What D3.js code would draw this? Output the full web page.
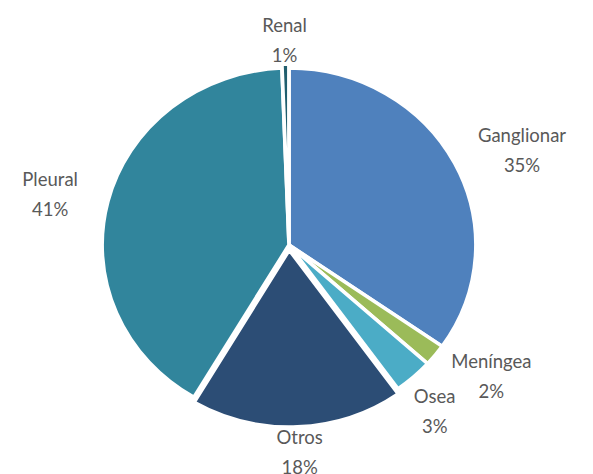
<!DOCTYPE html>
<html>
<head>
<meta charset="utf-8">
<script src="https://cdn.jsdelivr.net/npm/d3@7"></script>
<style>
  body { margin: 0; background: #fff; }
  svg text { font-family: Lato, "Open Sans", sans-serif; fill: #595959; }
</style>
</head>
<body>
<svg width="593" height="474"></svg>
<script>
// slice names, values (%) and printed labels, clockwise from 12 o'clock
const categories = ["Ganglionar", "Meníngea", "Osea", "Otros", "Pleural", "Renal"];
const values = [34.7, 2.0, 3.4, 18.4, 40.9, 0.6];
const labels = ["35%", "2%", "3%", "18%", "41%", "1%"];
const colors = ["#4F81BD", "#9BBB59", "#4BACC6", "#2C4D75", "#31859C", "#215E6E"];
const explode = [0, 0, 0, 5, 0, 4];

function drawPie() {
    const svg = d3.select("svg"),
        cx = 289,
        cy = 245,
        radius = 177,
        sx = 1.056, // the original chart is a little wider than tall
        minSep = 14 * Math.PI / 180;

    const pie = d3.pie().sort(null).value(d => d)(values);
    const arc = d3.arc().innerRadius(0).outerRadius(radius);

    const g = svg.append("g")
        .attr("transform", `translate(${cx},${cy}) scale(${sx},1)`);

    g.selectAll("path")
        .data(pie)
        .enter().append("path")
        .attr("d", arc)
        .attr("transform", (d, i) => {
            const a = (d.startAngle + d.endAngle) / 2;
            return `translate(${explode[i] * Math.sin(a)},${-explode[i] * Math.cos(a)})`;
        })
        .style("fill", (d, i) => colors[i])
        .style("stroke", "#fff")
        .style("stroke-width", 3.5)
        .style("stroke-linejoin", "miter");

    // label angles: mid angle, pushed on when two labels sit too close
    const angles = pie.map(d => (d.startAngle + d.endAngle) / 2);
    for (let i = 1; i < angles.length; i++) {
        if (angles[i] - angles[i - 1] < minSep) angles[i] = angles[i - 1] + minSep;
    }

    // labels placed outside the slice edge, Excel style
    const lineH = 30;
    pie.forEach((d, i) => {
        const a = angles[i];
        const t = svg.append("text")
            .attr("text-anchor", "middle")
            .style("font-size", "18.5px");
        t.append("tspan").attr("x", 0).attr("y", 0).text(categories[i]);
        t.append("tspan").attr("x", 0).attr("y", lineH).text(labels[i]);
        const w = t.node().getBBox().width;
        const h = 2 * lineH;
        const gap = Math.cos(a) < 0 ? 4 + 5 * Math.abs(Math.sin(a)) : 0;
        const x = cx + sx * (radius + 30) * Math.sin(a) + (w / 2) * Math.sin(a);
        const y = cy - (radius + h / 2 - 3 + gap) * Math.cos(a);
        t.attr("transform", `translate(${x},${y - lineH / 2 + 6})`);
    });
}

drawPie();
</script>
</body>
</html>
